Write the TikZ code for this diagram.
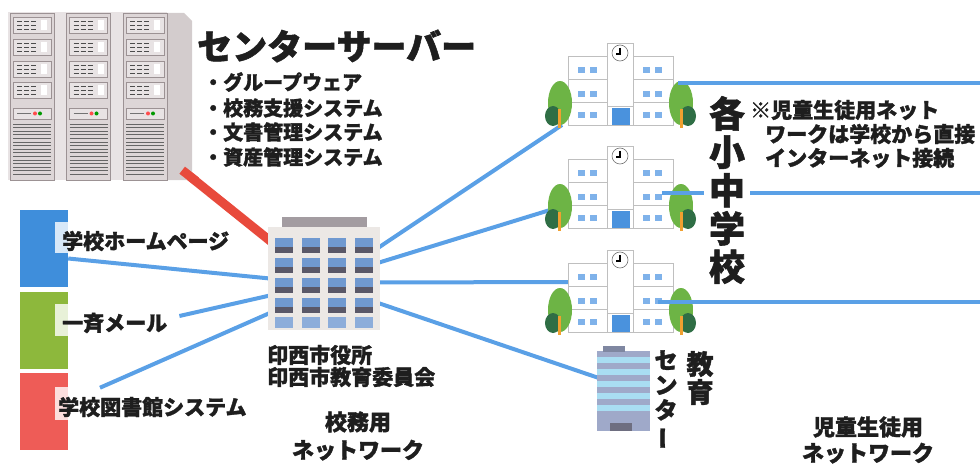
\documentclass[tikz,border=0pt]{standalone}
\usepackage{fontspec}
\setmainfont{Noto Sans CJK JP}[BoldFeatures={FakeBold=1.5}]
\usetikzlibrary{calc}

\definecolor{netblue}{HTML}{5AA0E6}
\definecolor{netred}{HTML}{E84A3C}
\definecolor{rackface}{HTML}{DDD6D7}
\definecolor{rackframe}{HTML}{E8E3E4}
\definecolor{rackedge}{HTML}{9C9294}
\definecolor{rackside}{HTML}{D3CCCD}
\definecolor{towerblue}{HTML}{3F8EDB}
\definecolor{towergreen}{HTML}{8DB83C}
\definecolor{towerred}{HTML}{EE5C57}
\definecolor{wall}{HTML}{ECE8E5}
\definecolor{roof}{HTML}{A39CA1}
\definecolor{wintop}{HTML}{7099D0}
\definecolor{winbot}{HTML}{5A5868}
\definecolor{leaf}{HTML}{6DB445}
\definecolor{leafdark}{HTML}{2F6E45}
\definecolor{trunk}{HTML}{F0A030}
\definecolor{glass}{HTML}{7FB2EA}
\definecolor{door}{HTML}{4A92DD}
\definecolor{edubase}{HTML}{9FA9C9}
\definecolor{edulight}{HTML}{A9DDF2}
\definecolor{edudoor}{HTML}{6E6E80}
\definecolor{ink}{HTML}{1E1E1E}

\pgfdeclarelayer{links}
\pgfsetlayers{links,main}

\begin{document}
\begin{tikzpicture}[x=1pt,y=-1pt,
  link/.style={draw=netblue,line width=4pt},
  uplink/.style={draw=netred,line width=9pt},
  txt/.style={inner sep=0pt,anchor=west,text=ink,font=\bfseries\fontsize{21pt}{24pt}\selectfont},
  listtxt/.style={txt,font=\bfseries\fontsize{20pt}{24pt}\selectfont},
  notetxt/.style={txt,font=\bfseries\fontsize{21pt}{24pt}\selectfont},
  tower/.style={rectangle,inner sep=0pt,minimum width=48pt,minimum height=77pt},
  pics/school/.style={code={
    \draw[black!25,fill=white,line width=0.6pt] (-52,-69) rectangle (-13,0);
    \draw[black!25,fill=white,line width=0.6pt] (13,-69) rectangle (53,0);
    \draw[black!25,fill=white,line width=0.6pt] (-13,-82) rectangle (13,0);
    \draw[black!25,line width=0.6pt] (-52,-46) -- (-13,-46) (13,-46) -- (53,-46)
                                     (-52,-23) -- (-13,-23) (13,-23) -- (53,-23)
                                     (-13,-19) -- (13,-19);
    \draw[black!55,fill=white,line width=0.6pt] (0,-72) circle (8pt);
    \draw[black,line width=1.2pt] (0,-77) -- (0,-71) -- (-4,-71);
    \foreach \r in {-58,-34,-13} {
      \foreach \c in {-42,-30,23,35} {
        \fill[glass] (\c,\r) rectangle ++(7,6);
      }
    }
    \fill[door] (-8,-17) rectangle (10,0);
    % left tree
    \fill[leaf] (-60,-22) ellipse (12pt and 22pt);
    \fill[leafdark] (-67,-9) ellipse (8pt and 10pt);
    \fill[trunk] (-62,-16) rectangle (-59,3);
    % right tree
    \fill[leaf] (61,-22) ellipse (12pt and 22pt);
    \fill[leafdark] (68,-9) ellipse (8pt and 10pt);
    \fill[trunk] (60,-16) rectangle (63,3);
  }}
]
\useasboundingbox (0,0) rectangle (980,468);

% ---------- anchors for the buildings ----------
\node[inner sep=0pt,minimum width=184pt,minimum height=168pt] (server) at (100,96) {};
\node[fill=wall,inner sep=0pt,minimum width=112pt,minimum height=103pt] (office) at (324,278.5) {};
\node[fill=edubase,inner sep=0pt,minimum width=53pt,minimum height=80pt] (edu) at (623.5,391) {};
\coordinate (s1) at (620,125);
\coordinate (s2) at (620,228);
\coordinate (s3) at (620,332);
\coordinate (edge1) at (980,83);
\coordinate (edge2) at (980,193);
\coordinate (edge3) at (980,302);

% ---------- server cabinet ----------
\fill[rackframe] (8,12) rectangle (167,180);
\fill[rackside] (167,13) -- (184,13) -- (192,21) -- (192,180) -- (167,180) -- cycle;
\foreach \x in {10,66.5,123} {
  \draw[rackedge,fill=rackface,line width=0.8pt] (\x,13) rectangle ++(44,167);
  \foreach \y in {17,39,61,82} {
    \draw[rackedge,fill=rackframe,line width=0.6pt] (\x+3,\y) rectangle ++(38,16);
    \foreach \gx in {0,7,14} \foreach \gy in {4,8,12}
      \draw[black!70,line width=0.9pt] (\x+7+\gx,\y+\gy) -- ++(5,0);
    \fill[white] (\x+31,\y+3) rectangle ++(6,10);
  }
  \draw[rackedge,fill=rackframe,line width=0.6pt] (\x+3,108) rectangle ++(38,11);
  \draw[black!55,line width=1.5pt] (\x+7,113.5) -- ++(14,0);
  \fill[red!70] (\x+25,113.5) circle (2pt);
  \fill[green!60!black] (\x+30,113.5) circle (2pt);
  \foreach \v in {0,...,14}
    \draw[black!60,line width=0.7pt] (\x+3,124+\v*3.6) -- ++(38,0);
}

% ---------- service towers ----------
\node[tower,fill=towerblue] (hp) at (44,248.5) {};
\fill[towerblue!20!white] (55,222) rectangle (68,253);
\node[tower,fill=towergreen] (mail) at (44,330) {};
\fill[towergreen!20!white] (55,304) rectangle (68,336);
\node[tower,fill=towerred] (lib) at (44,411.5) {};
\fill[towerred!20!white] (55,387) rectangle (68,420);

\node[txt] (hpT) at (62,241) {学校ホームページ};
\node[txt] (mailT) at (62,323) {一斉メール};
\node[txt] (libT) at (58,407) {学校図書館システム};

% ---------- city office ----------
\fill[roof] (282,217) rectangle (367,227);
\foreach \cx in {275,302,328,355} {
  \foreach \ry in {238,258,278,298} {
    \fill[wintop] (\cx,\ry) rectangle ++(18,15);
    \fill[winbot] (\cx,\ry+9) rectangle ++(18,6);
  }
  \fill[wintop!80!white] (\cx,317) rectangle ++(18,11);
}
\node[txt,align=left,font=\bfseries\fontsize{21pt}{22pt}\selectfont] (officeT) at (267,366)
  {印西市役所\\印西市教育委員会};

% ---------- education centre ----------
\fill[edubase!80!black] (603,346) rectangle (625,352);
\foreach \sy in {357,369,381,393,405} \fill[edulight] (597,\sy) rectangle (650,\sy+6);
\fill[edudoor] (610,423) rectangle (632,431);
\node[align=center,inner sep=0pt,text=ink,font=\bfseries\fontsize{23pt}{25pt}\selectfont] (eduT1) at (666,400)
  {セ\\ン\\タ\\\rotatebox[origin=c]{90}{ー}};
\node[align=center,inner sep=0pt,text=ink,font=\bfseries\fontsize{27pt}{28pt}\selectfont] (eduT2) at (700,378)
  {教\\育};

% ---------- schools ----------
\pic at (s1) {school};
\pic at (s2) {school};
\pic at (s3) {school};

% ---------- network links ----------
\begin{pgfonlayer}{links}
  \draw[uplink] ($(server.south east)+(-10,-10)$) -- ($(office.north west)+(6,17)$);
  \draw[link] ($(hp.east)+(0,10)$) -- ($(office.west)+(2,0)$);
  \draw[link] ($(mailT.east)+(12,-7)$) -- ($(office.west)+(2,17)$);
  \draw[link] ($(libT.north west)+(42,-9)$) -- ($(office.west)+(2,34.5)$);
  \draw[link] ($(office.north east)+(-2,21)$) -- ($(s1)+(-58,0)$);
  \draw[link] ($(office.north east)+(-2,36)$) -- ($(s2)+(-70,-18)$);
  \draw[link] ($(office.east)+(-2,4)$) -- ($(s3)+(-52,-50)$);
  \draw[link] ($(office.east)+(-2,24.5)$) -- ($(edu.west)+(2,-13)$);
\end{pgfonlayer}
\draw[uplink] ($(server.south east)+(-10,-10)$) -- ($(server.south east)+(4,1)$);
\draw[link] ($(s1)+(58,-42)$) -- (edge1);
\draw[link] ($(s2)+(42,-35)$) -- (edge2);
\draw[link] ($(s3)+(38,-30)$) -- (edge3);

% ---------- labels ----------
\node[txt,font=\bfseries\fontsize{35pt}{40pt}\selectfont] (title) at (197,46) {センターサーバー};
\node[listtxt] (l1) at (203,82) {・グループウェア};
\node[listtxt] (l2) at (203,108) {・校務支援システム};
\node[listtxt] (l3) at (203,132) {・文書管理システム};
\node[listtxt] (l4) at (203,157) {・資産管理システム};

\node[align=center,fill=white,inner xsep=5pt,inner ysep=3pt,text=ink,
      font=\bfseries\fontsize{36pt}{38.25pt}\selectfont] (schools) at (727,190)
  {各\\小\\中\\学\\校};

\node[notetxt] (n1) at (750,110) {※児童生徒用ネット};
\node[notetxt] (n2) at (765,134) {ワークは学校から直接};
\node[notetxt] (n3) at (765,158) {インターネット接続};

\node[align=center,inner sep=0pt,text=ink,font=\bfseries\fontsize{22pt}{28pt}\selectfont] (staffnet) at (358,436)
  {校務用\\ネットワーク};
\node[align=center,inner sep=0pt,text=ink,font=\bfseries\fontsize{22pt}{26pt}\selectfont] (pupilnet) at (868,440)
  {児童生徒用\\ネットワーク};
\end{tikzpicture}
\end{document}
